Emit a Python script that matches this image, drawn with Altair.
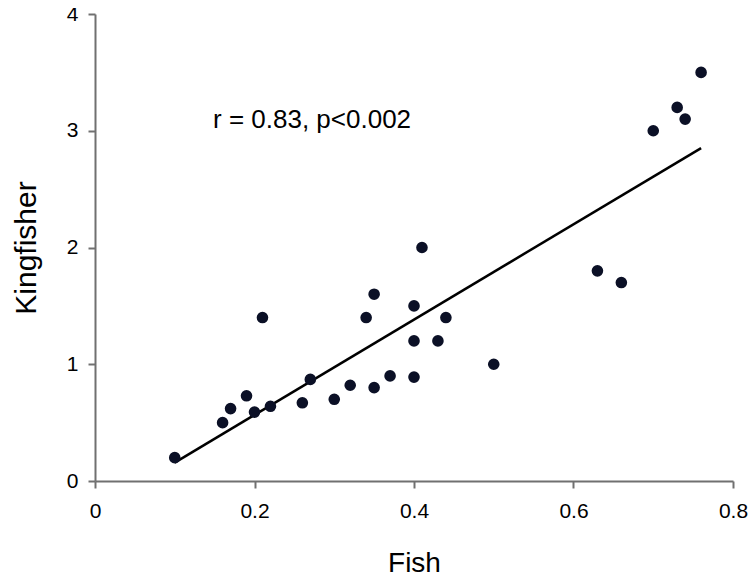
import altair as alt
import pandas as pd

fish = [0.10, 0.16, 0.17, 0.19, 0.20, 0.21, 0.22, 0.26, 0.27, 0.30, 0.32, 0.34, 0.35, 0.35,
        0.37, 0.40, 0.40, 0.40, 0.41, 0.43, 0.44, 0.50, 0.63, 0.66, 0.70, 0.73, 0.74, 0.76]
kingfisher = [0.20, 0.50, 0.62, 0.73, 0.59, 1.40, 0.64, 0.67, 0.87, 0.70, 0.82, 1.40, 1.60, 0.80,
              0.90, 1.50, 1.20, 0.89, 2.00, 1.20, 1.40, 1.00, 1.80, 1.70, 3.00, 3.20, 3.10, 3.50]
x_ticks = [0, 0.2, 0.4, 0.6, 0.8]
y_ticks = [0, 1, 2, 3, 4]
note_text = ["r = 0.83, p<0.002"]
note_x = [0.148]
note_y = [3.09]

df = pd.DataFrame({"Fish": fish, "Kingfisher": kingfisher})
note_df = pd.DataFrame({"x": note_x, "y": note_y, "t": note_text})

FONT = "Liberation Sans"

xs = alt.Scale(domain=[0, 0.8], nice=False, zero=False)
ys = alt.Scale(domain=[0, 4], nice=False, zero=False)

xaxis = alt.Axis(values=x_ticks, grid=False, domainColor="#707070", domainWidth=2,
                 tickColor="#707070", tickWidth=2, tickSize=7, labelFontSize=21,
                 labelColor="black", labelFont=FONT, labelPadding=12, titleFont=FONT,
                 titleFontSize=28, titleFontWeight="normal", titleColor="black",
                 titlePadding=28, labelFlush=False,
                 labelExpr="datum.value == 0 ? '0' : format(datum.value, '.1f')")
yaxis = alt.Axis(values=y_ticks, grid=False, domainColor="#707070", domainWidth=2,
                 tickColor="#707070", tickWidth=2, tickSize=7, labelFontSize=21,
                 labelColor="black", labelFont=FONT, labelPadding=10, titleFont=FONT,
                 titleFontSize=30, titleFontWeight="normal", titleColor="black",
                 titlePadding=25, labelFlush=False, format="d")

points = alt.Chart(df).mark_circle(size=135, color="#0b1026", opacity=1).encode(
    x=alt.X("Fish:Q", scale=xs, axis=xaxis, title="Fish"),
    y=alt.Y("Kingfisher:Q", scale=ys, axis=yaxis, title="Kingfisher"),
)

fit = alt.Chart(df).transform_regression("Fish", "Kingfisher").mark_line(
    color="black", strokeWidth=2.5).encode(
    x=alt.X("Fish:Q", scale=xs, title="Fish"),
    y=alt.Y("Kingfisher:Q", scale=ys, title="Kingfisher"),
)

note = alt.Chart(note_df).mark_text(align="left", baseline="middle", fontSize=26,
                                     font=FONT, color="black").encode(
    x=alt.X("x:Q", scale=xs, title="Fish"),
    y=alt.Y("y:Q", scale=ys, title="Kingfisher"),
    text="t:N",
)

chart = alt.layer(fit, points, note).properties(
    width=638, height=467,
    autosize=alt.AutoSizeParams(type="none"),
    padding={"left": 87, "top": 6, "right": 15, "bottom": 96},
).configure_view(stroke=None)

chart.save("out.html", embed_options={"renderer": "svg", "actions": False})
